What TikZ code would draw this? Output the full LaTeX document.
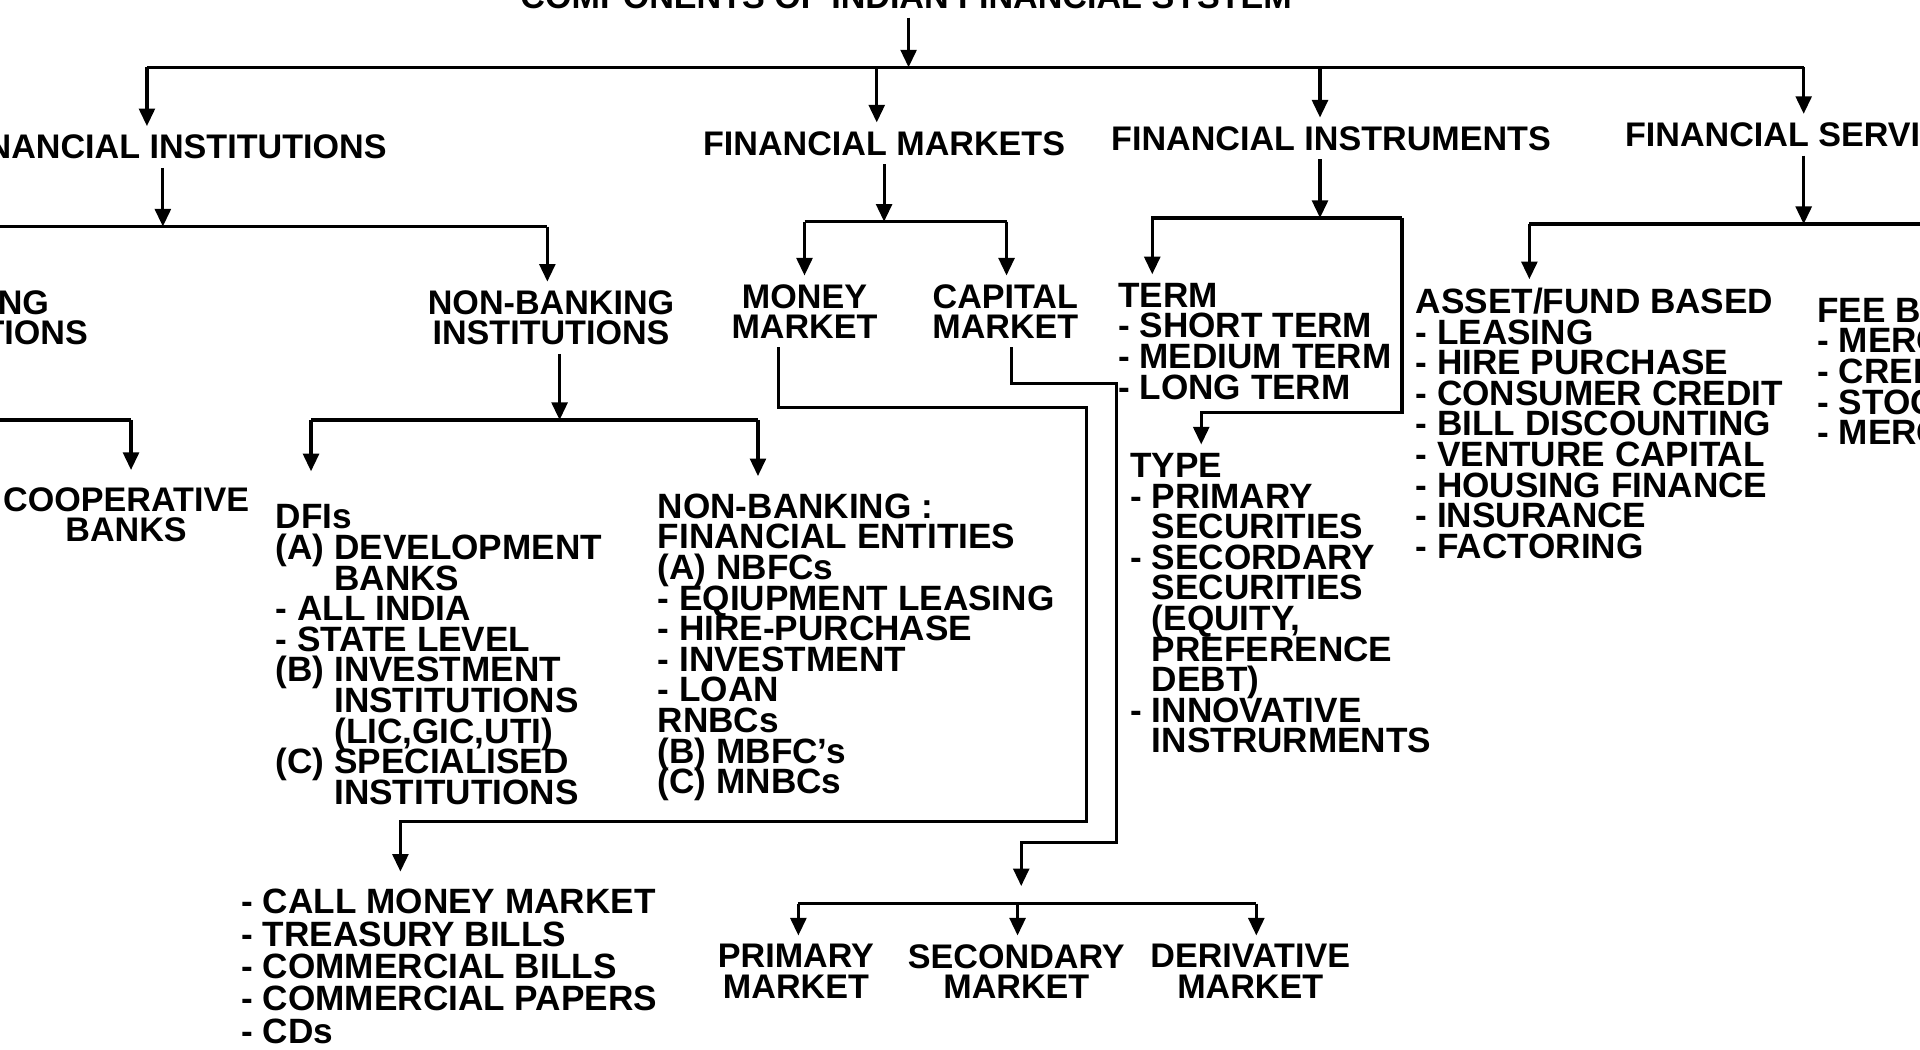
\documentclass[tikz,border=0pt]{standalone}
\usepackage{fontspec}
\setmainfont{Liberation Sans}
\usetikzlibrary{arrows.meta}
\tikzset{>={Triangle[width=4.5pt,length=5pt]}}
\newcommand{\sysfont}{\fontsize{9.7}{8.7}\selectfont\bfseries\lineskiplimit=-20pt}
\newcommand{\lstfont}{\fontsize{10}{8.7}\selectfont\bfseries\lineskiplimit=-20pt}
\tikzset{
  txt/.style={inner sep=0pt, outer sep=2.5pt, font=\sysfont},
  head/.style={txt, align=center, anchor=north},
  lst/.style={txt, font=\lstfont, align=left, anchor=north west},
  conn/.style={line width=0.9pt},
}

\begin{document}
\begin{tikzpicture}[x=0.012245cm, y=-0.012245cm]
  \useasboundingbox (0,0) rectangle (1568,857);
  \clip (0,0) rectangle (1568,857);

  %% headings
  \node[txt, anchor=base] (title) at (740,7) {COMPONENTS OF INDIAN FINANCIAL SYSTEM};
  \node[head] (fi) at (140,103) {FINANCIAL INSTITUTIONS};
  \node[head] (fm) at (722,100) {FINANCIAL MARKETS};
  \node[head] (fins) at (1087,96) {FINANCIAL INSTRUMENTS};
  \node[head, anchor=north west] (fs) at (1320,93) {FINANCIAL SERVICES};

  %% second level
  \node[head] (bi) at (-25,230) {BANKING\\INSTITUTIONS};
  \node[head] (nbi) at (450,230) {NON-BANKING\\INSTITUTIONS};
  \node[head] (mm) at (657,225) {MONEY\\MARKET};
  \node[head] (cm) at (821,225) {CAPITAL\\MARKET};
  \node[lst] (term) at (906,224) {TERM\\- SHORT TERM\\- MEDIUM TERM\\- LONG TERM};
  \node[lst] (afb) at (1149,228) {ASSET/FUND BASED\\- LEASING\\- HIRE PURCHASE\\
    - CONSUMER CREDIT\\- BILL DISCOUNTING\\- VENTURE CAPITAL\\- HOUSING FINANCE\\
    - INSURANCE\\- FACTORING};
  \node[lst] (feeb) at (1477,236) {FEE BASED\\- MERCHANT BANKING\\- CREDIT RATING\\
    - STOCK BROKING\\- MERGERS \& ACQUISITIONS};

  %% third level
  \node[head] (coop) at (103,391) {COOPERATIVE\\BANKS};
  \node[lst] (dfi) at (218,405) {DFIs\\(A) DEVELOPMENT\\\phantom{(A) }BANKS\\
    - ALL INDIA\\- STATE LEVEL\\(B) INVESTMENT\\\phantom{(B) }INSTITUTIONS\\
    \phantom{(B) }(LIC,GIC,UTI)\\(C) SPECIALISED\\\phantom{(C) }INSTITUTIONS};
  \node[lst] (nbfe) at (530,396) {NON-BANKING :\\FINANCIAL ENTITIES\\(A) NBFCs\\
    - EQIUPMENT LEASING\\- HIRE-PURCHASE\\- INVESTMENT\\- LOAN\\RNBCs\\
    (B) MBFC's\\(C) MNBCs};
  \node[lst] (type) at (916,363) {TYPE\\- PRIMARY\\\phantom{- }SECURITIES\\
    - SECORDARY\\\phantom{- }SECURITIES\\\phantom{- }(EQUITY,\\
    \phantom{- }PREFERENCE\\\phantom{- }DEBT)\\- INNOVATIVE\\
    \phantom{- }INSTRURMENTS};

  %% fourth level
  \node[lst, font={\fontsize{10}{9.2}\selectfont\bfseries\lineskiplimit=-20pt}]
    (mml) at (190,719) {- CALL MONEY MARKET\\- TREASURY BILLS\\
    - COMMERCIAL BILLS\\- COMMERCIAL PAPERS\\- CDs};
  \node[head] (pm) at (650,764) {PRIMARY\\MARKET};
  \node[head] (sm) at (830,764) {SECONDARY\\MARKET};
  \node[head] (dm) at (1021,764) {DERIVATIVE\\MARKET};

  %% title to headings
  \coordinate (b0l) at (120,55);
  \coordinate (b0m) at (742,55);
  \coordinate (b0r) at (1473,55);
  \draw[conn,->] (title.south -| b0m) -- (b0m);
  \draw[conn] (b0l) -- (b0r);
  \foreach \x/\n in {120/fi, 716/fm, 1078/fins, 1473/fs}{
    \coordinate (t) at (\x,55);
    \draw[conn,->] (t) -- (t |- \n.north);
  }

  %% financial institutions
  \coordinate (b1) at (133,185);
  \coordinate (b1r) at (447,185);
  \draw[conn,->] (fi.south -| b1) -- (b1);
  \draw[conn] (b1 -| bi) -- (b1r);
  \draw[conn,->] (b1 -| bi) -- (bi.north);
  \draw[conn,->] (b1r) -- (b1r |- nbi.north);

  %% banking institutions
  \coordinate (b2) at (107,343);
  \draw[conn] (bi.south) |- (b2);
  \draw[conn,->,shorten >=2.5pt] (b2) -- (b2 |- coop.north);

  %% non-banking institutions
  \coordinate (b3l) at (254,343);
  \coordinate (b3m) at (457,343);
  \coordinate (b3r) at (619,343);
  \draw[conn,->] (nbi.south -| b3m) -- (b3m);
  \draw[conn] (b3l) -- (b3r);
  \draw[conn,->,shorten >=7pt] (b3l) -- (b3l |- dfi.north);
  \draw[conn,->,shorten >=2.5pt] (b3r) -- (b3r |- nbfe.north);

  %% financial markets
  \coordinate (b4l) at (657,181);
  \coordinate (b4m) at (722,181);
  \coordinate (b4r) at (822,181);
  \draw[conn,->] (fm.south -| b4m) -- (b4m);
  \draw[conn] (b4l) -- (b4r);
  \draw[conn,->] (b4l) -- (b4l |- mm.north);
  \draw[conn,->] (b4r) -- (b4r |- cm.north);

  %% money market
  \coordinate (mm1) at (636,333);
  \coordinate (mm2) at (887,671);
  \coordinate (mm3) at (327,671);
  \draw[conn,->,shorten >=2.5pt] (mm.south -| mm1) -- (mm1) -| (mm2) -- (mm3)
    -- (mm3 |- mml.north);

  %% capital market
  \coordinate (cm1) at (826,313);
  \coordinate (cm2) at (912,688);
  \coordinate (cm3) at (834,688);
  \coordinate (b5) at (831,738);
  \draw[conn,->,shorten >=5pt] (cm.south -| cm1) -- (cm1) -| (cm2) -- (cm3)
    -- (cm3 |- b5);

  \coordinate (b5l) at (652,738);
  \coordinate (b5r) at (1026,738);
  \draw[conn] (b5l) -- (b5r);
  \draw[conn,->] (b5l) -- (b5l |- pm.north);
  \draw[conn,->] (b5) -- (b5 |- sm.north);
  \draw[conn,->] (b5r) -- (b5r |- dm.north);

  %% financial instruments
  \coordinate (b6l) at (941,178);
  \coordinate (b6m) at (1078,178);
  \coordinate (b6r) at (1145,178);
  \coordinate (b6b) at (981,337);
  \draw[conn,->] (fins.south -| b6m) -- (b6m);
  \draw[conn,->] (b6r) -- (b6l) -- (b6l |- term.north);
  \draw[conn,->] (b6r) |- (b6b) -- (b6b |- type.north);

  %% financial services
  \coordinate (b7l) at (1249,183);
  \coordinate (b7m) at (1473,183);
  \coordinate (b7r) at (1600,183);
  \draw[conn,->] (fs.south -| b7m) -- (b7m);
  \draw[conn] (b7l) -- (b7r);
  \draw[conn,->] (b7l) -- (b7l |- afb.north);
  \draw[conn,->] (b7r) -- (b7r |- feeb.north);

\end{tikzpicture}
\end{document}
